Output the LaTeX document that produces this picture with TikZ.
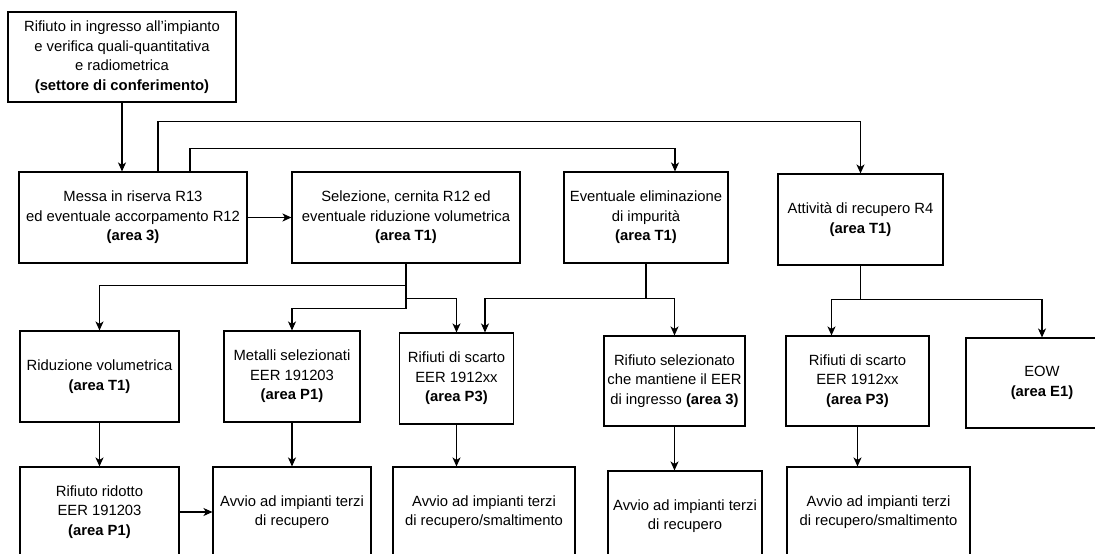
\documentclass[tikz,border=0pt]{standalone}
\usepackage{fontspec}
\setmainfont{Liberation Sans}
\usepackage{tikz}
\usetikzlibrary{arrows.meta,calc}

\begin{document}
\begin{tikzpicture}[x=1pt, y=-1pt,
    every node/.style={font=\fontsize{14.8pt}{19.5pt}\selectfont},
    box/.style={draw, fill=white, align=center, inner sep=0pt, line width=1.1pt},
    arr/.style={-{Stealth[length=9pt, width=8pt, inset=2.5pt]}, line width=1.1pt}]
    \useasboundingbox (0,0) rectangle (1095,554);
    \clip (0,0) rectangle (1095,554);
    \fill[white] (0,0) rectangle (1095,554);

    % ingresso
    \node[box, minimum width=228pt, minimum height=90pt] (ingresso) at (122,57) {Rifiuto in ingresso all’impianto\\e verifica quali-quantitativa\\e radiometrica\\\textbf{(settore di conferimento)}};

    % fasi di trattamento
    \node[box, minimum width=228pt, minimum height=91pt] (riserva) at (133,217.5) {Messa in riserva R13\\ed eventuale accorpamento R12\\\textbf{(area 3)}};
    \node[box, minimum width=228pt, minimum height=91pt] (selezione) at (406,217.5) {Selezione, cernita R12 ed\\eventuale riduzione volumetrica\\\textbf{(area T1)}};
    \node[box, minimum width=164pt, minimum height=91pt] (elimina) at (646,217.5) {Eventuale eliminazione\\di impurità\\\textbf{(area T1)}};
    \node[box, minimum width=165pt, minimum height=91pt] (recupero) at (860.5,219.5) {Attività di recupero R4\\\textbf{(area T1)}};

    % prodotti e scarti
    \node[box, minimum width=159pt, minimum height=91pt] (riduz) at (99.5,376.5) {Riduzione volumetrica\\\textbf{(area T1)}};
    \node[box, minimum width=136pt, minimum height=91pt] (metalli) at (292,376.5) {Metalli selezionati\\EER 191203\\\textbf{(area P1)}};
    \node[box, minimum width=114pt, minimum height=91pt] (scartoA) at (456.5,378.5) {Rifiuti di scarto\\EER 1912xx\\\textbf{(area P3)}};
    \node[box, minimum width=141pt, minimum height=90pt] (selez) at (674.5,381) {Rifiuto selezionato\\che mantiene il EER\\di ingresso \textbf{(area 3)}};
    \node[box, minimum width=143pt, minimum height=90pt] (scartoB) at (857.5,381) {Rifiuti di scarto\\EER 1912xx\\\textbf{(area P3)}};
    \node[box, minimum width=152pt, minimum height=90pt] (eow) at (1042,383) {EOW\\\textbf{(area E1)}};

    % destinazioni
    \node[box, minimum width=159pt, minimum height=90pt] (ridotto) at (99.5,512) {Rifiuto ridotto\\EER 191203\\\textbf{(area P1)}};
    \node[box, minimum width=158pt, minimum height=90pt] (avvioA) at (292,512) {Avvio ad impianti terzi\\di recupero};
    \node[box, minimum width=182pt, minimum height=90pt] (avvioB) at (484,512) {Avvio ad impianti terzi\\di recupero/smaltimento};
    \node[box, minimum width=154pt, minimum height=90pt] (avvioC) at (685,516) {Avvio ad impianti terzi\\di recupero};
    \node[box, minimum width=183pt, minimum height=90pt] (avvioD) at (878.5,512) {Avvio ad impianti terzi\\di recupero/smaltimento};

    \draw[arr] (ingresso.south) -- (ingresso.south |- riserva.north);
    \draw[arr] ([xshift=25pt]riserva.north) -- ++(0,-50) -| (recupero.north);
    \draw[arr] ([xshift=57pt]riserva.north) -- ++(0,-23) -| ([xshift=29pt]elimina.north);
    \draw[arr] (riserva) -- (selezione);

    \draw[arr] (selezione.south) -- ++(0,22) -| (riduz.north);
    \draw[arr] (selezione.south) -- ++(0,35) -| (scartoA.north);
    \draw[arr] (selezione.south) -- ++(0,45) -| (metalli.north);
    \draw[arr] (elimina.south) -- ++(0,35) -| ([xshift=28.5pt]scartoA.north);
    \draw[arr] (elimina.south) -- ++(0,35) -| (selez.north);
    \draw[arr] (recupero.south) -- ++(0,34) -| ([xshift=-26pt]scartoB.north);
    \draw[arr] (recupero.south) -- ++(0,34) -| (eow.north);

    \draw[arr] (riduz) -- (ridotto);
    \draw[arr] (ridotto) -- (avvioA);
    \draw[arr] (metalli) -- (avvioA);
    \draw[arr] (scartoA.south) -- (scartoA.south |- avvioB.north);
    \draw[arr] (selez.south) -- (selez.south |- avvioC.north);
    \draw[arr] (scartoB.south) -- (scartoB.south |- avvioD.north);
\end{tikzpicture}
\end{document}
